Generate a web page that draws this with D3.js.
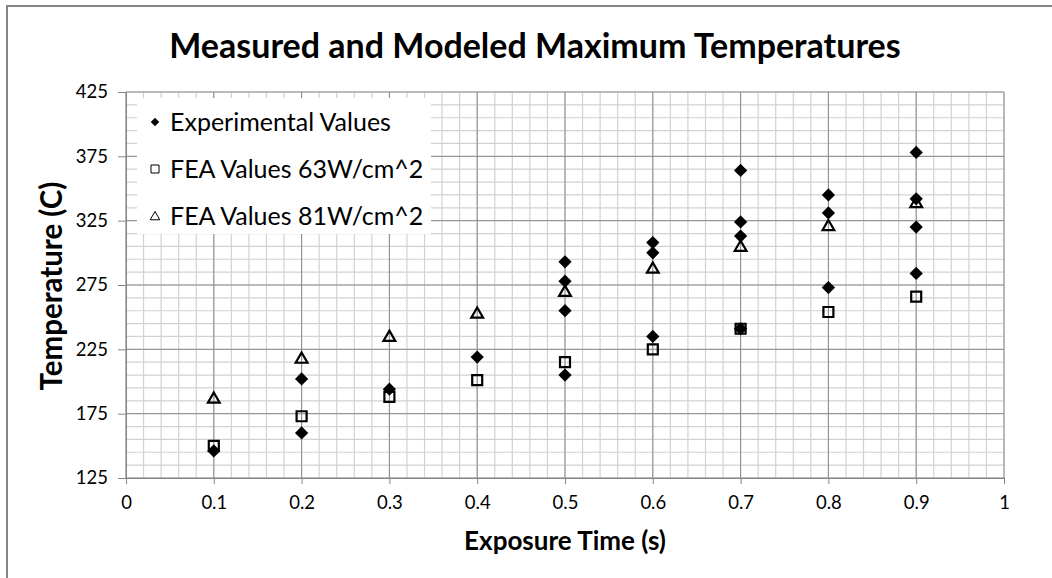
<!DOCTYPE html>
<html>
<head>
<meta charset="utf-8">
<script src="https://cdn.jsdelivr.net/npm/d3@7"></script>
<style>
  body { margin: 0; background: #fff; }
  svg { display: block; }
  text { font-family: Lato, "Open Sans", sans-serif; fill: #000; }
</style>
</head>
<body>
<script>
// measured points (diamonds)
var expTime  = [0.1, 0.2, 0.2, 0.3, 0.4, 0.5, 0.5, 0.5, 0.5, 0.6, 0.6, 0.6, 0.7, 0.7, 0.7, 0.7, 0.8, 0.8, 0.8, 0.9, 0.9, 0.9, 0.9];
var expTemp  = [146, 202, 160, 194, 219, 293, 278, 255, 205, 308, 300, 235, 364, 324, 313, 241, 345, 331, 273, 378, 342, 320, 284];

// FEA model runs
var feaTime  = [0.1, 0.2, 0.3, 0.4, 0.5, 0.6, 0.7, 0.8, 0.9];
var fea63    = [150, 173, 188, 201, 215, 225, 241, 254, 266];
var fea81    = [187, 218, 235, 253, 270, 288, 305, 321, 339];

var xTicks = [0, 0.1, 0.2, 0.3, 0.4, 0.5, 0.6, 0.7, 0.8, 0.9, 1];
var yTicks = [125, 175, 225, 275, 325, 375, 425];
var legendLabels = ["Experimental Values", "FEA Values 63W/cm^2", "FEA Values 81W/cm^2"];

function draw()
{
    var width = 1052, height = 578;
    var left = 126, right = 1004, top = 92, bottom = 478;

    var svg = d3.select("body").append("svg")
            .attr("width", width)
            .attr("height", height);

    // chart frame (only top/left edge are on the picture)
    svg.append("rect")
       .attr("x", 7).attr("y", 6)
       .attr("width", width + 20).attr("height", height + 20)
       .attr("fill", "#fff")
       .attr("stroke", "#868686").attr("stroke-width", 2);

    var x = d3.scaleLinear().domain([0, 1]).range([left, right]);
    var y = d3.scaleLinear().domain([125, 425]).range([bottom, top]);

    // minor grid
    var g = svg.append("g");
    g.selectAll(".vminor").data(d3.range(0, 1.0001, 0.02))
     .enter().append("line")
       .attr("x1", d => x(d)).attr("x2", d => x(d))
       .attr("y1", top).attr("y2", bottom)
       .attr("stroke", "#d2d2d2").attr("stroke-width", 1.2);
    g.selectAll(".hminor").data(d3.range(125, 425.1, 10))
     .enter().append("line")
       .attr("y1", d => y(d)).attr("y2", d => y(d))
       .attr("x1", left).attr("x2", right)
       .attr("stroke", "#d2d2d2").attr("stroke-width", 1.2);

    // major grid
    g.selectAll(".vmajor").data(xTicks)
     .enter().append("line")
       .attr("x1", d => x(d)).attr("x2", d => x(d))
       .attr("y1", top).attr("y2", bottom)
       .attr("stroke", "#8c8c8c").attr("stroke-width", 1);
    g.selectAll(".hmajor").data(yTicks)
     .enter().append("line")
       .attr("y1", d => y(d)).attr("y2", d => y(d))
       .attr("x1", left).attr("x2", right)
       .attr("stroke", "#8c8c8c").attr("stroke-width", 1);

    // axes
    var xAxis = d3.axisBottom(x).tickValues(xTicks).tickSize(6).tickPadding(12)
                  .tickFormat(d => d3.format("")(d));
    var yAxis = d3.axisLeft(y).tickValues(yTicks).tickSize(8).tickPadding(10);

    var gx = svg.append("g").attr("transform", "translate(0," + bottom + ")").call(xAxis);
    var gy = svg.append("g").attr("transform", "translate(" + left + ",0)").call(yAxis);
    [gx, gy].forEach(function (a)
    {
        a.select(".domain").attr("stroke", "#868686");
        a.selectAll(".tick line").attr("stroke", "#868686");
        a.selectAll(".tick text").attr("font-size", 18.5).attr("fill", "#222")
         .style("font-family", "Lato, sans-serif");
    });

    // legend box hides grid
    svg.append("rect")
       .attr("x", 137).attr("y", 98)
       .attr("width", 294).attr("height", 136)
       .attr("fill", "#fff");

    var diamond = d3.symbol().type(d3.symbolSquare).size(88);
    var square  = d3.symbol().type(d3.symbolSquare).size(100);
    var tri     = d3.symbol().type(d3.symbolTriangle).size(60);

    // FEA 81 (triangles)
    svg.selectAll(".t81").data(feaTime)
       .enter().append("path")
         .attr("d", tri)
         .attr("transform", (d, i) => "translate(" + x(d) + "," + (y(fea81[i]) + 1) + ")")
         .attr("fill", "none").attr("stroke", "#000").attr("stroke-width", 2.2);

    // FEA 63 (squares)
    svg.selectAll(".s63").data(feaTime)
       .enter().append("path")
         .attr("d", square)
         .attr("transform", (d, i) => "translate(" + x(d) + "," + y(fea63[i]) + ")")
         .attr("fill", "none").attr("stroke", "#000").attr("stroke-width", 2.2);

    // experimental (diamonds)
    svg.selectAll(".exp").data(expTime)
       .enter().append("path")
         .attr("d", diamond)
         .attr("transform", (d, i) => "translate(" + x(d) + "," + y(expTemp[i]) + ") rotate(45)")
         .attr("fill", "#000");

    // legend
    var legY = [122, 169, 216];
    var lg = svg.append("g");
    lg.append("path").attr("d", d3.symbol().type(d3.symbolSquare).size(36))
      .attr("transform", "translate(155," + legY[0] + ") rotate(45)").attr("fill", "#000");
    lg.append("path").attr("d", d3.symbol().type(d3.symbolSquare).size(64))
      .attr("transform", "translate(155," + legY[1] + ")")
      .attr("fill", "none").attr("stroke", "#000").attr("stroke-width", 1);
    lg.append("path").attr("d", d3.symbol().type(d3.symbolTriangle).size(40))
      .attr("transform", "translate(155," + (legY[2] + 1) + ")")
      .attr("fill", "none").attr("stroke", "#000").attr("stroke-width", 1);
    lg.selectAll("text").data(legendLabels)
      .enter().append("text")
        .attr("x", 170).attr("y", (d, i) => legY[i])
        .attr("dy", "0.35em")
        .attr("font-size", 25)
        .text(d => d);

    // titles
    svg.append("text")
       .attr("x", 535).attr("y", 46).attr("dy", "0.35em")
       .attr("text-anchor", "middle")
       .attr("font-size", 34).attr("font-weight", "bold")
       .text("Measured and Modeled Maximum Temperatures");

    svg.append("text")
       .attr("x", 565).attr("y", 541).attr("dy", "0.35em")
       .attr("text-anchor", "middle")
       .attr("font-size", 26).attr("font-weight", "bold")
       .text("Exposure Time (s)");

    svg.append("text")
       .attr("transform", "translate(52,286) rotate(-90)")
       .attr("dy", "0.35em")
       .attr("text-anchor", "middle")
       .attr("font-size", 29.5).attr("font-weight", "bold")
       .text("Temperature (C)");
}
window.onload = draw;
</script>
</body>
</html>
